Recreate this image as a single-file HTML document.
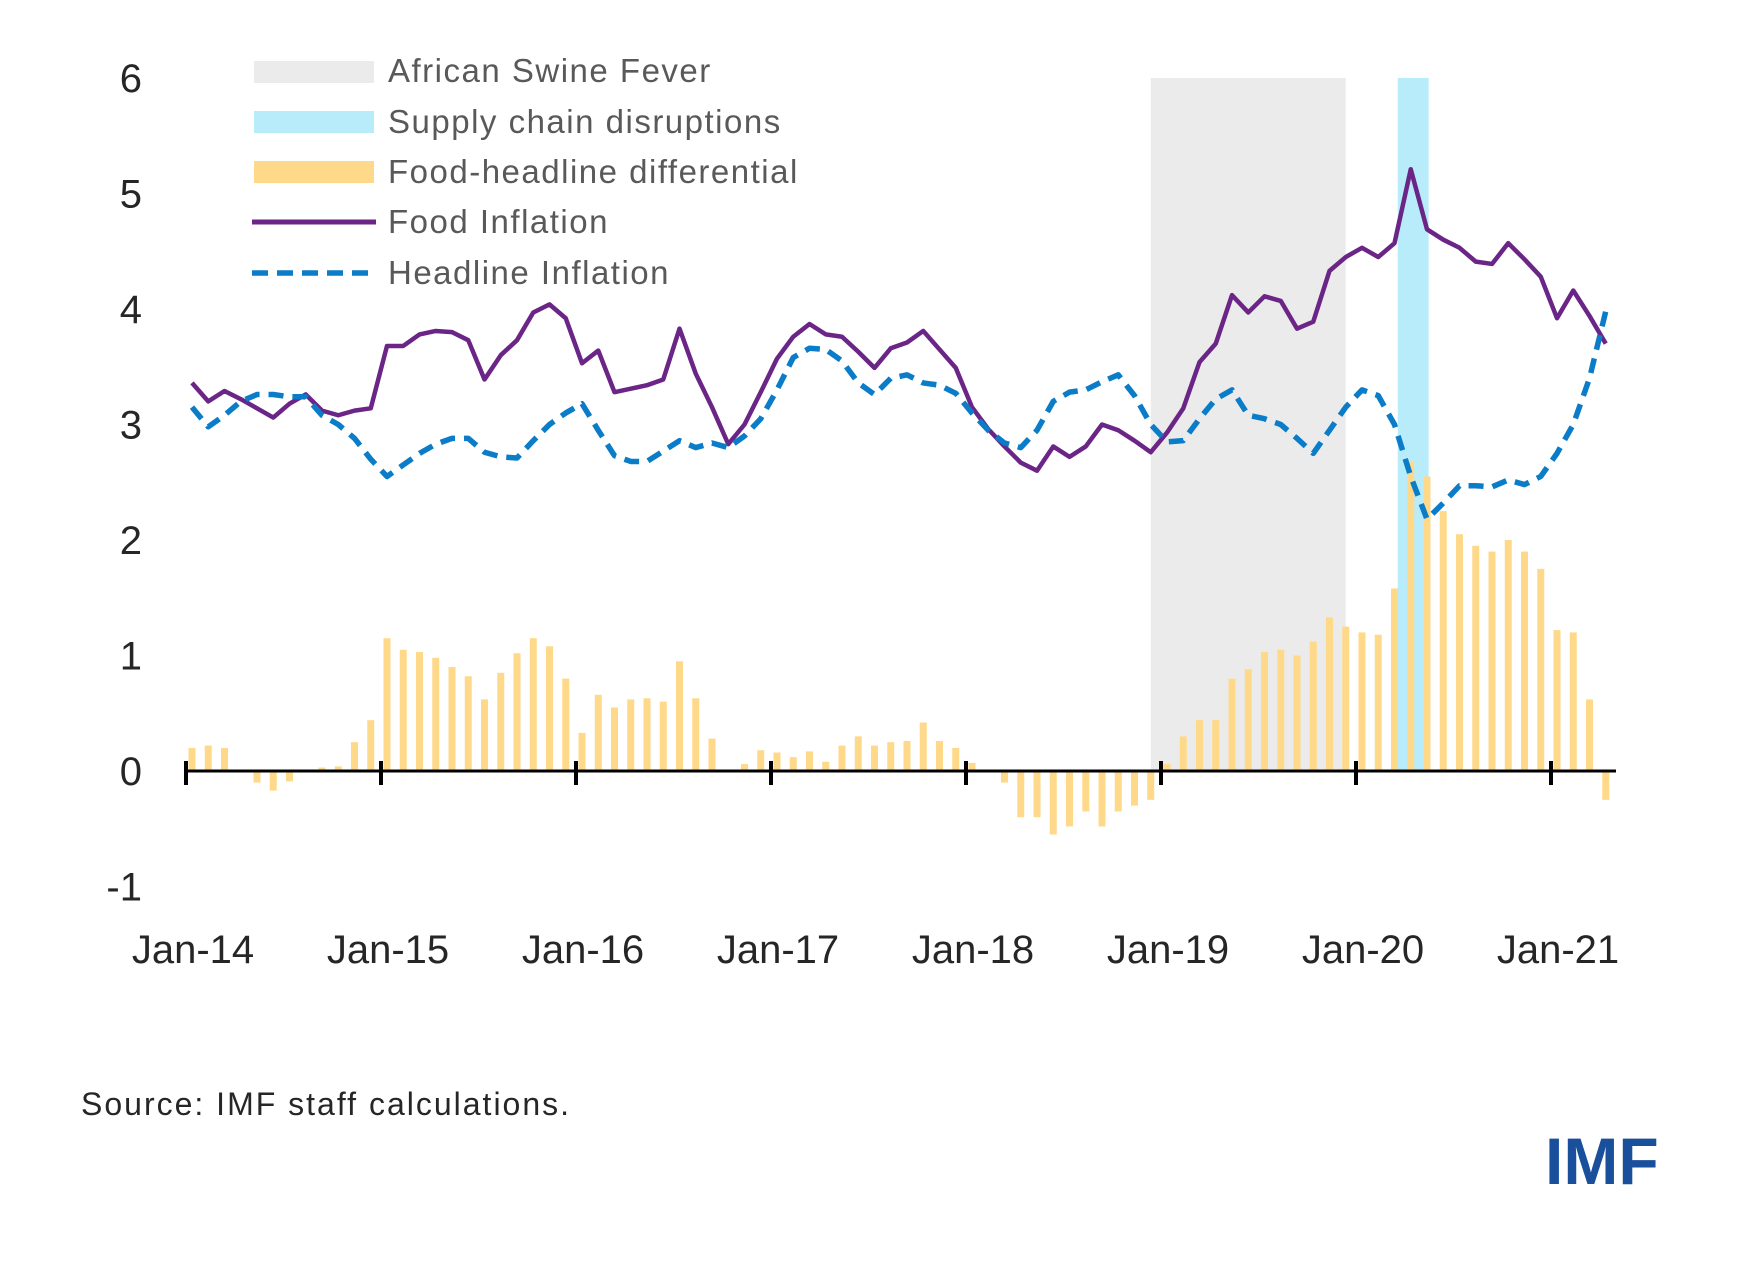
<!DOCTYPE html>
<html><head><meta charset="utf-8"><style>
html,body{margin:0;padding:0;background:#fff;}
svg{display:block;font-family:"Liberation Sans",sans-serif;}
</style></head><body>
<svg id="chart" width="1750" height="1277" viewBox="0 0 1750 1277">
<g id="shades"></g><g id="bars"></g><g id="axis"></g><g id="lines"></g>
<g id="legend">
 <rect x="254" y="61" width="120" height="22" fill="#ebebeb"/>
 <text x="388" y="82" font-size="33" letter-spacing="1.5" fill="#595959">African Swine Fever</text>
 <rect x="254" y="111" width="120" height="22" fill="#b8ecfb"/>
 <text x="388" y="133" font-size="33" letter-spacing="1.5" fill="#595959">Supply chain disruptions</text>
 <rect x="254" y="161" width="120" height="22" fill="#ffd98a"/>
 <text x="388" y="183" font-size="33" letter-spacing="1.5" fill="#595959">Food-headline differential</text>
 <line x1="252" y1="222" x2="376" y2="222" stroke="#6a2586" stroke-width="5"/>
 <text x="388" y="233" font-size="33" letter-spacing="1.5" fill="#595959">Food Inflation</text>
 <line x1="252" y1="273" x2="376" y2="273" stroke="#0a7cc8" stroke-width="5.5" stroke-dasharray="16 9"/>
 <text x="388" y="284" font-size="33" letter-spacing="1.5" fill="#595959">Headline Inflation</text>
</g>
<text x="81" y="1115" font-size="32" letter-spacing="2" fill="#262626">Source: IMF staff calculations.</text>
<text x="1545" y="1184" font-size="66" font-weight="bold" fill="#1a4f9c">IMF</text>
</svg>
<script>
const food=[3.36,3.2,3.29,3.22,3.14,3.06,3.18,3.26,3.12,3.08,3.12,3.14,3.68,3.68,3.78,3.81,3.8,3.73,3.39,3.6,3.73,3.97,4.04,3.92,3.53,3.64,3.28,3.31,3.34,3.39,3.83,3.44,3.15,2.83,3.0,3.28,3.57,3.76,3.87,3.78,3.76,3.63,3.49,3.66,3.71,3.81,3.65,3.49,3.15,2.96,2.81,2.67,2.6,2.81,2.72,2.81,3.0,2.95,2.86,2.76,2.93,3.14,3.54,3.7,4.12,3.97,4.11,4.07,3.83,3.89,4.33,4.45,4.53,4.45,4.57,5.21,4.69,4.6,4.53,4.41,4.39,4.57,4.43,4.28,3.92,4.16,3.94,3.7];
const headline=[3.15,2.98,3.08,3.2,3.26,3.26,3.24,3.24,3.08,3.0,2.88,2.7,2.55,2.65,2.75,2.83,2.88,2.88,2.76,2.72,2.71,2.86,3.0,3.1,3.18,2.95,2.73,2.68,2.68,2.77,2.86,2.8,2.84,2.8,2.9,3.05,3.3,3.58,3.66,3.65,3.55,3.36,3.26,3.4,3.43,3.36,3.34,3.27,3.1,2.95,2.84,2.8,2.95,3.2,3.28,3.3,3.37,3.43,3.25,3.0,2.85,2.86,3.05,3.22,3.3,3.08,3.05,3.0,2.88,2.75,2.95,3.15,3.3,3.25,3.0,2.55,2.18,2.32,2.47,2.47,2.46,2.52,2.48,2.55,2.75,3.0,3.4,3.98];
const diff=[0.2,0.22,0.2,0,-0.1,-0.17,-0.09,0,0.03,0.04,0.25,0.44,1.15,1.05,1.03,0.98,0.9,0.82,0.62,0.85,1.02,1.15,1.08,0.8,0.33,0.66,0.55,0.62,0.63,0.6,0.95,0.63,0.28,0,0.06,0.18,0.16,0.12,0.17,0.08,0.22,0.3,0.22,0.25,0.26,0.42,0.26,0.2,0.07,0,-0.1,-0.4,-0.4,-0.55,-0.48,-0.35,-0.48,-0.35,-0.3,-0.25,0.06,0.3,0.44,0.44,0.8,0.88,1.03,1.05,1.0,1.12,1.33,1.25,1.2,1.18,1.58,2.68,2.55,2.25,2.05,1.95,1.9,2.0,1.9,1.75,1.22,1.2,0.62,-0.25];
const yTicks=[-1,0,1,2,3,4,5,6];
const xLabels=["Jan-14","Jan-15","Jan-16","Jan-17","Jan-18","Jan-19","Jan-20","Jan-21"];
const asfPeriod=[59,71];
const supplyPeriod=[74.2,76.1];

const NS="http://www.w3.org/2000/svg";
const x0=192, mW=16.25, yZero=771, yUnit=115.5;
const X=i=>x0+i*mW;
const Y=v=>yZero-v*yUnit;
function mk(tag,attrs,parent){const e=document.createElementNS(NS,tag);for(const k in attrs)e.setAttribute(k,attrs[k]);parent.appendChild(e);return e;}
const shades=document.getElementById('shades'),bars=document.getElementById('bars'),axis=document.getElementById('axis'),lines=document.getElementById('lines');

let r=mk('rect',{x:X(asfPeriod[0]),y:Y(6),width:X(asfPeriod[1])-X(asfPeriod[0]),height:Y(0)-Y(6),fill:'#ebebeb'},shades);


r=mk('rect',{x:X(supplyPeriod[0]),y:Y(6),width:X(supplyPeriod[1])-X(supplyPeriod[0]),height:Y(0)-Y(6),fill:'#b8ecfb'},shades);



diff.forEach((v,i)=>{
 const b=mk('rect',{x:X(i)-3.5,y:Math.min(Y(v),Y(0)),width:7,height:Math.abs(Y(v)-Y(0)),fill:'#ffd98a'},bars);
 
 
});

yTicks.forEach(t=>{
 const tx=mk('text',{x:142,y:Y(t)+14,'font-size':40,fill:'#262626','text-anchor':'end'},axis);
 tx.textContent=t;
 
 
});
let ax=mk('line',{x1:184,y1:Y(0),x2:1616,y2:Y(0),stroke:'#000','stroke-width':3},axis);


xLabels.forEach((l,k)=>{
 const xx=X(k*12)-6;
 const tk=mk('line',{x1:xx,y1:Y(0)-10,x2:xx,y2:Y(0)+14,stroke:'#000','stroke-width':4},axis);
 
 
 const tx=mk('text',{x:xx+7,y:963,'font-size':40,fill:'#262626','text-anchor':'middle'},axis);
 tx.textContent=l;
 
 
});

let p=mk('polyline',{points:food.map((v,i)=>X(i)+','+Y(v)).join(' '),fill:'none',stroke:'#6a2586','stroke-width':4.5,'stroke-linejoin':'round'},lines);


p=mk('polyline',{points:headline.map((v,i)=>X(i)+','+Y(v)).join(' '),fill:'none',stroke:'#0a7cc8','stroke-width':5.5,'stroke-dasharray':'15 9','stroke-linejoin':'round'},lines);


</script>
</body></html>
